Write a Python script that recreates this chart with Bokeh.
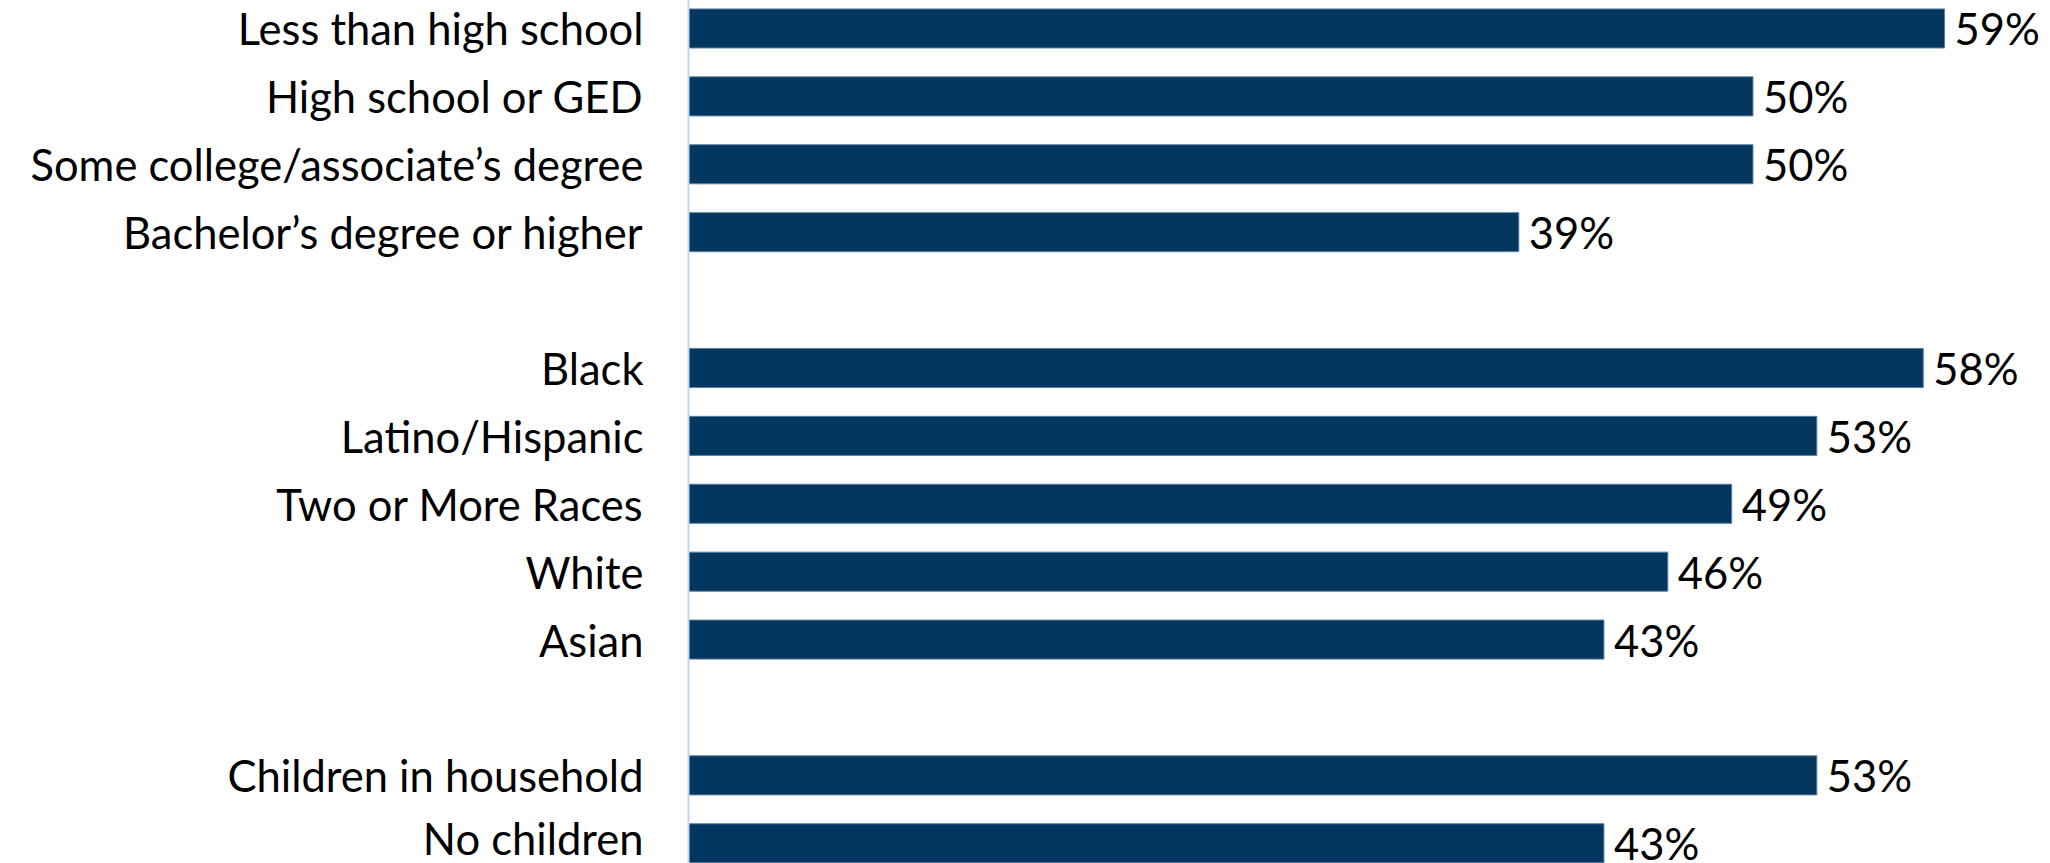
from bokeh.plotting import figure
from bokeh.models import ColumnDataSource, Range1d, FixedTicker
from bokeh.embed import file_html
from bokeh.resources import INLINE
from bokeh.core.properties import value

categories = [
    "Less than high school",
    "High school or GED",
    "Some college/associate\u2019s degree",
    "Bachelor\u2019s degree or higher",
    "",
    "Black",
    "Latino/Hispanic",
    "Two or More Races",
    "White",
    "Asian",
    "",
    "Children in household",
    "No children",
]
values = [59, 50, 50, 39, None, 58, 53, 49, 46, 43, None, 53, 43]

n = len(categories)
ypos = [n - 1 - i for i in range(n)]
bars_y = [y for y, v in zip(ypos, values) if v is not None]
bars_v = [v for v in values if v is not None]
bars_lbl = [f"{v}%" for v in bars_v]

src = ColumnDataSource(dict(y=bars_y, v=bars_v, lbl=bars_lbl))

FONT = "Lato"
FS = "43.5px"

H = 863
top = n - 1 + 0.412
p = figure(width=2042, height=H, output_backend="svg", toolbar_location=None,
           x_range=Range1d(0, 63.6), y_range=Range1d(top - H / 67.9, top),
           min_border=0, min_border_left=688, min_border_right=0,
           min_border_top=0, min_border_bottom=0, outline_line_color=None)

p.hbar(y="y", right="v", left=0, height=0.575, source=src,
       fill_color="#03375F", line_color="#5B7EA0", line_width=1)

p.text(x="v", y="y", text="lbl", source=src, x_offset=10,
       text_baseline="middle", text_align="left",
       text_font=value(FONT), text_font_size=FS, text_color="#000000")

p.xaxis.visible = False
p.xgrid.visible = False
p.ygrid.visible = False

ax = p.yaxis[0]
ax.ticker = FixedTicker(ticks=ypos)
ax.major_label_overrides = {y: c for y, c in zip(ypos, categories)}
ax.major_label_text_font = FONT
ax.major_label_text_font_size = FS
ax.major_label_text_color = "#000000"
ax.major_label_standoff = 39
ax.major_tick_line_color = None
ax.minor_tick_line_color = None
ax.axis_line_color = "#BDD7EE"
ax.axis_line_width = 2

open("out.html", "w").write(file_html(p, INLINE))
